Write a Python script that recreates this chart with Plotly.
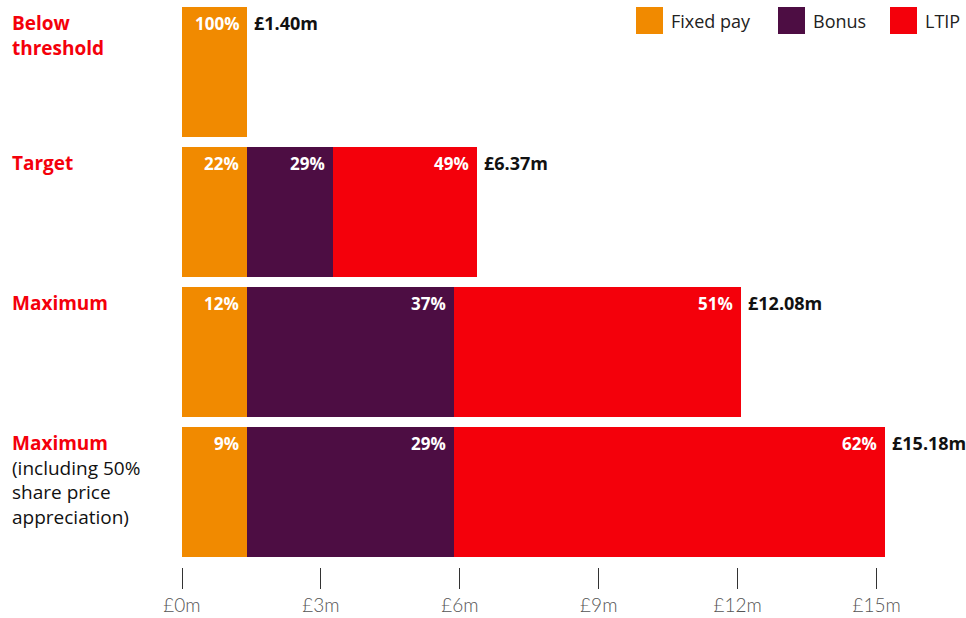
import plotly.graph_objects as go

categories = ["Below threshold", "Target", "Maximum", "Maximum incl"]
fixed_pay = [1.40, 1.40, 1.40, 1.40]
bonus = [0.0, 1.85, 4.47, 4.47]
ltip = [0.0, 3.12, 6.21, 9.31]
pct_fixed = ["100%", "22%", "12%", "9%"]
pct_bonus = [None, "29%", "37%", "29%"]
pct_ltip = [None, "49%", "51%", "62%"]
totals = ["£1.40m", "£6.37m", "£12.08m", "£15.18m"]
tick_vals = [0, 3, 6, 9, 12, 15]
tick_text = ["£0m", "£3m", "£6m", "£9m", "£12m", "£15m"]

ORANGE = "#F18A00"
PURPLE = "#4D0D43"
RED = "#F4000B"
FONT = "Open Sans"

row_labels = [
    "<b>Below</b><br><b>threshold</b>",
    "<b>Target</b>",
    "<b>Maximum</b>",
    "<b>Maximum</b><br><span style='color:#111'>(including 50%<br>share price<br>appreciation)</span>",
]

BARGAP = 0.0714
HALF = (1 - BARGAP) / 2

fig = go.Figure()
for name, vals, color in [("Fixed pay", fixed_pay, ORANGE), ("Bonus", bonus, PURPLE), ("LTIP", ltip, RED)]:
    fig.add_trace(go.Bar(y=categories, x=vals, orientation="h", marker_color=color,
                         marker_line_width=0, name=name, showlegend=False, hoverinfo="skip"))

# segment percentages and totals
for i in range(len(categories)):
    ends = [fixed_pay[i], fixed_pay[i] + bonus[i], fixed_pay[i] + bonus[i] + ltip[i]]
    for end, lab in zip(ends, [pct_fixed[i], pct_bonus[i], pct_ltip[i]]):
        if lab is None:
            continue
        fig.add_annotation(x=end, y=i - HALF, xref="x", yref="y", text=f"<b>{lab}</b>",
                           showarrow=False, xanchor="right", yanchor="top", xshift=-6, yshift=-3,
                           font=dict(family=FONT, size=17, color="white"))
    fig.add_annotation(x=ends[-1], y=i - HALF, xref="x", yref="y", text=f"<b>{totals[i]}</b>",
                       showarrow=False, xanchor="left", yanchor="top", xshift=5, yshift=-2,
                       font=dict(family=FONT, size=18, color="#111"))
    fig.add_annotation(x=0, y=i - HALF, xref="paper", yref="y", text=row_labels[i],
                       showarrow=False, xanchor="left", yanchor="top", xshift=-172, yshift=-1,
                       align="left", font=dict(family=FONT, size=19, color=RED))

# legend drawn by hand for the large square keys
legend_items = [("Fixed pay", ORANGE, 636), ("Bonus", PURPLE, 778), ("LTIP", RED, 890)]
for name, color, px in legend_items:
    x0 = (px - 182) / 784
    fig.add_shape(type="rect", xref="paper", yref="paper", x0=x0, x1=x0 + 27 / 784,
                  y0=(565 - 5) / 565, y1=(565 - 32) / 565, fillcolor=color, line_width=0)
    fig.add_annotation(x=x0 + 33 / 784, y=(565 - 19) / 565, xref="paper", yref="paper",
                       text=name, showarrow=False, xanchor="left", yanchor="middle",
                       font=dict(family=FONT, size=18, color="#222"))

fig.update_layout(
    width=966, height=618,
    margin=dict(l=182, r=0, t=2, b=51),
    plot_bgcolor="white", paper_bgcolor="white",
    barmode="stack", bargap=BARGAP,
    font=dict(family=FONT),
    xaxis=dict(range=[0, 16.93], showgrid=False, zeroline=False, showline=False,
               tickvals=tick_vals, ticktext=tick_text, ticks="outside", ticklen=21,
               tickcolor="#333", tickwidth=1,
               tickfont=dict(family="Lato", size=19, color="#555", weight=300)),
    yaxis=dict(range=[3.536, -0.5], showticklabels=False, showgrid=False,
               zeroline=False, showline=False),
)

fig.write_html("out.html", config={"displayModeBar": False},
               post_script="document.body.style.margin='0';")
